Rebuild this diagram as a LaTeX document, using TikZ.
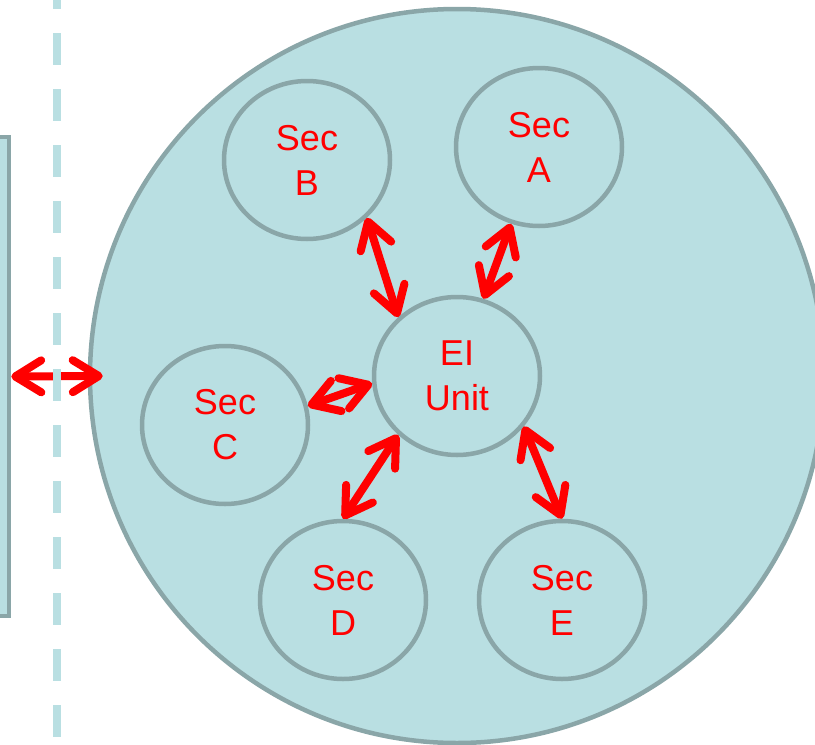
\documentclass[tikz,border=0pt]{standalone}
\usepackage{fontspec}
\setmainfont{Liberation Sans}
\usetikzlibrary{shapes.geometric,arrows.meta}
\definecolor{aqua}{RGB}{185,223,226}
\definecolor{rim}{RGB}{138,166,168}
\tikzset{
  sec/.style={ellipse, draw=rim, fill=aqua, line width=4.5pt, minimum width=166pt,
    minimum height=158pt, inner sep=0pt, text=red,
    font=\fontsize{36pt}{45pt}\selectfont, align=center},
  barb/.tip={Straight Barb[round,length=26pt,width=32pt]},
  link/.style={draw=red, line width=8pt, barb-barb},
}
\begin{document}
\begin{tikzpicture}[x=1pt,y=-1pt]
\useasboundingbox (0,0) rectangle (815,745);
% big circle
\node[circle, draw=rim, fill=aqua, line width=4.5pt, minimum size=734pt, inner sep=0pt] (world) at (457,376) {};
% left panel
\node[rectangle, draw=rim, fill=aqua, line width=4.5pt, minimum width=40pt, minimum height=479pt, inner sep=0pt] (panel) at (-11,376.5) {};
% sections
\node[sec] (ei) at (457,376) {EI\\Unit};
\node[sec] (a) at (539,147) {Sec\\A};
\node[sec] (b) at (307,160) {Sec\\B};
\node[sec] (c) at (225,425) {Sec\\C};
\node[sec] (d) at (343,600) {Sec\\D};
\node[sec] (e) at (562,600) {Sec\\E};
% connectors
\draw[link] (panel.east) -- ([xshift=15pt]world.west);
\draw[link] (b.-44.5) -- (ei.135);
\draw[link] (a.250) -- (ei.71);
\draw[link] (c.13) -- (ei.185);
\draw[link] (d.90) -- (ei.225);
\draw[link] (e.90) -- (ei.-37);
% dashed divider
\coordinate (dtop) at (57,-23);
\coordinate (dbot) at (57,770);
\draw[aqua, line width=8pt, dash pattern=on 32pt off 24pt] (dtop) -- (dbot);
\end{tikzpicture}
\end{document}
